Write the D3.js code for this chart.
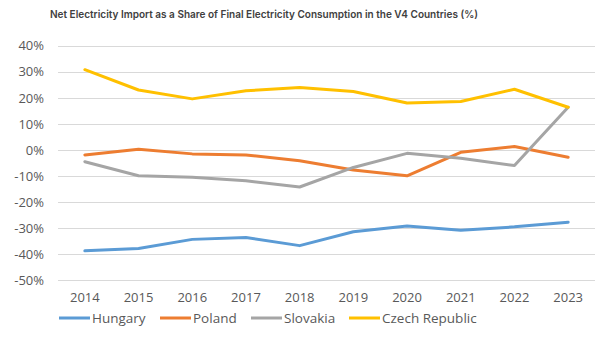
<!DOCTYPE html>
<html><head><meta charset="utf-8">
<script src="https://cdn.jsdelivr.net/npm/d3@7"></script>
<style>body{margin:0;background:#fff}svg{display:block}</style>
</head><body>
<svg id="c" width="610" height="343"></svg>
<script>
const years = ["2014","2015","2016","2017","2018","2019","2020","2021","2022","2023"];
const hungary = [-38.7,-37.8,-34.3,-33.6,-36.7,-31.4,-29.2,-30.8,-29.5,-27.7];
const poland = [-1.9,0.3,-1.5,-1.9,-4.1,-7.7,-9.9,-0.9,1.3,-2.8];
const slovakia = [-4.5,-9.9,-10.5,-11.8,-14.2,-6.7,-1.3,-3.2,-6.0,16.4];
const czech = [30.8,23.0,19.6,22.7,24.0,22.4,18.0,18.6,23.3,16.4];
const yTicks = [40,30,20,10,0,-10,-20,-30,-40,-50];
const seriesNames = ["Hungary","Poland","Slovakia","Czech Republic"];
const colors = ["#5B9BD5","#ED7D31","#A5A5A5","#FFC000"];
const title = "Net Electricity Import as a Share of Final Electricity Consumption in the V4 Countries (%)";

const svg = d3.select("#c");
const series = [hungary, poland, slovakia, czech];

const x = d3.scaleBand().domain(years).range([58, 595]);
const y = d3.scaleLinear().domain([-50, 40]).range([280.3, 45.7]);

svg.append("text").attr("x", 264).attr("y", 17.5).attr("text-anchor","middle")
  .attr("font-family","Inter, sans-serif").attr("font-weight","600").attr("font-size","10.5px")
  .attr("fill","#404040").attr("textLength",428).attr("lengthAdjust","spacingAndGlyphs").text(title);

svg.append("g").selectAll("line").data(yTicks).join("line")
  .attr("x1",58).attr("x2",595).attr("y1",d=>Math.round(y(d))+0.5).attr("y2",d=>Math.round(y(d))+0.5)
  .attr("stroke","#d9d9d9").attr("stroke-width",1);

const yAxis = svg.append("g").attr("transform","translate(58,0)")
  .call(d3.axisLeft(y).tickValues(yTicks).tickFormat(d=>d+"%").tickSize(0).tickPadding(14));
yAxis.select(".domain").remove();
yAxis.selectAll("text").attr("font-family","'Open Sans', sans-serif").attr("font-size","13px").attr("fill","#595959");

const xAxis = svg.append("g").attr("transform","translate(0,289)")
  .call(d3.axisBottom(x).tickSize(0).tickPadding(4));
xAxis.select(".domain").remove();
xAxis.selectAll("text").attr("font-family","'Open Sans', sans-serif").attr("font-size","13px").attr("fill","#595959");

const line = d3.line().x((d,i)=>x(years[i])+x.bandwidth()/2).y(d=>y(d));
svg.append("g").selectAll("path").data(series).join("path")
  .attr("d", line).attr("fill","none").attr("stroke",(d,i)=>colors[i])
  .attr("stroke-width",3).attr("stroke-linejoin","round").attr("stroke-linecap","round");

const legX = [59,160,251,349];
const leg = svg.append("g").selectAll("g").data(seriesNames).join("g")
  .attr("transform",(d,i)=>`translate(${legX[i]},318)`);
leg.append("line").attr("x1",0).attr("x2",31).attr("stroke",(d,i)=>colors[i]).attr("stroke-width",3);
leg.append("text").attr("x",33).attr("dy","0.35em").attr("font-family","'Open Sans', sans-serif")
  .attr("font-size","13.5px").attr("fill","#595959").text(d=>d);
</script>
</body></html>
